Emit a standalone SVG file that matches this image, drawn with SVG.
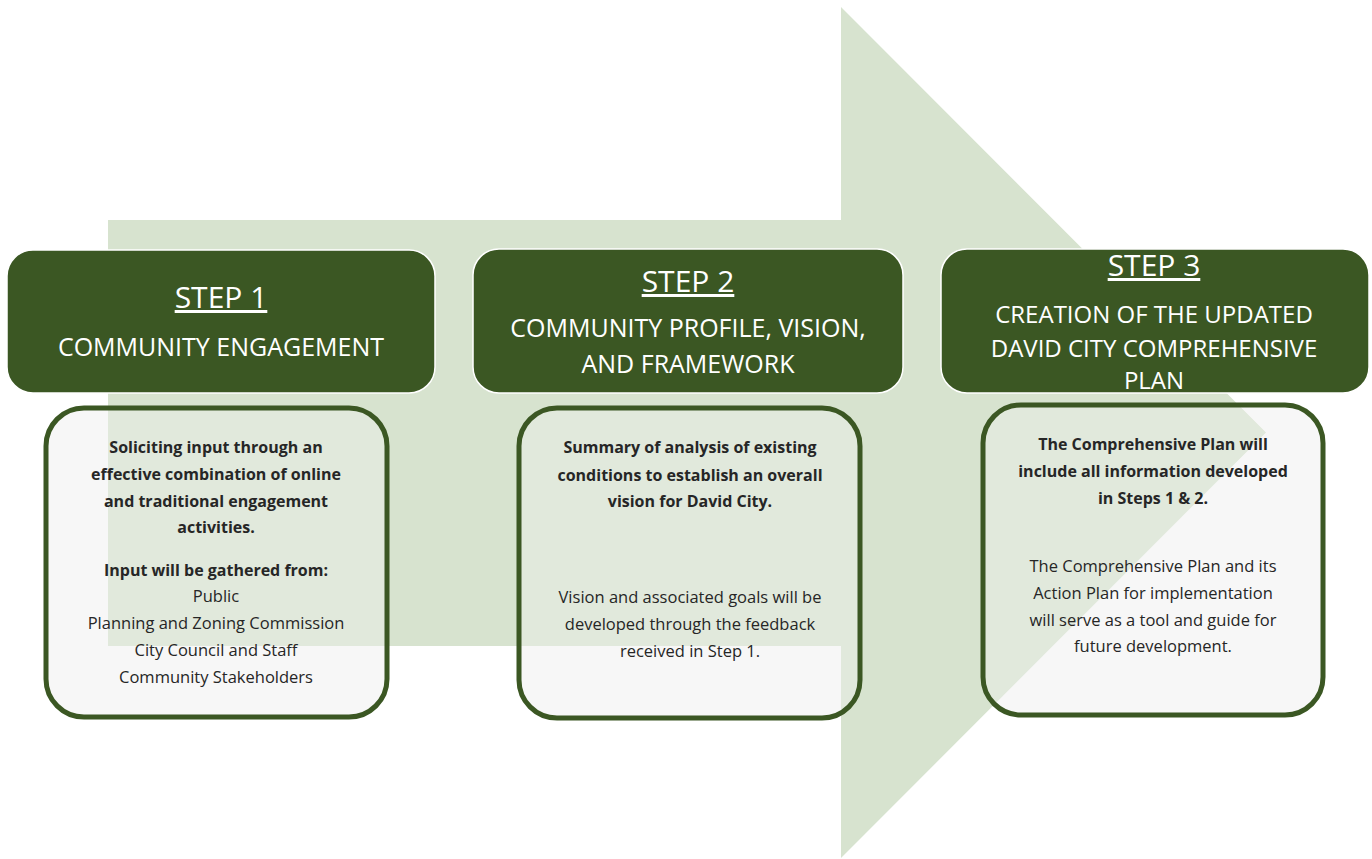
<svg xmlns="http://www.w3.org/2000/svg" width="1372" height="859" viewBox="0 0 1372 859">
<defs>
<style>
.hdr{fill:#3b5723;stroke:#ffffff;stroke-width:1.5}
.card{fill:#f7f7f7}
.cardline{fill:none;stroke:#3b5723;stroke-width:5}
.h1{font-family:"Open Sans",sans-serif;font-size:30px;fill:#ffffff;text-anchor:middle;text-decoration:underline}
.h2{font-family:"Open Sans",sans-serif;font-size:25px;fill:#ffffff;text-anchor:middle}
.h3{font-family:"Open Sans",sans-serif;font-size:24px;fill:#ffffff;text-anchor:middle}
.b{font-family:"Open Sans",sans-serif;font-size:16px;font-weight:bold;fill:#262626;text-anchor:middle}
.r{font-family:"Open Sans",sans-serif;font-size:16.5px;fill:#262626;text-anchor:middle}
</style>
<clipPath id="cardclip">
<rect x="46" y="408" width="341" height="309" rx="38"/>
<rect x="519" y="408" width="341" height="310" rx="38"/>
<rect x="983" y="405" width="340" height="310" rx="38"/>
</clipPath>
</defs>
<rect width="1372" height="859" fill="#ffffff"/>
<g id="arrow">
<polygon points="108,220 841,220 841,7 1266,432.5 841,858 841,646 108,646" fill="#d7e3cf"/>
</g>
<g id="connectors"></g>
<g id="step1">
<rect class="hdr" x="7" y="250" width="428" height="143" rx="26"/>
<text class="h1" x="221" y="308">STEP 1</text>
<text class="h2" x="221" y="356">COMMUNITY ENGAGEMENT</text>
</g>
<g id="step2">
<rect class="hdr" x="473" y="249" width="430" height="144" rx="26"/>
<text class="h1" x="688" y="292">STEP 2</text>
<text class="h2" x="688" y="337">COMMUNITY PROFILE, VISION,</text>
<text class="h2" x="688" y="373">AND FRAMEWORK</text>
</g>
<g id="step3">
<rect class="hdr" x="941" y="249" width="428" height="144" rx="26"/>
<text class="h1" x="1154" y="276">STEP 3</text>
<text class="h3" x="1154" y="323">CREATION OF THE UPDATED</text>
<text class="h3" x="1154" y="357">DAVID CITY COMPREHENSIVE</text>
<text class="h3" x="1154" y="389">PLAN</text>
</g>
<g id="cards-bg">
<rect class="card" x="46" y="408" width="341" height="309" rx="38"/>
<rect class="card" x="519" y="408" width="341" height="310" rx="38"/>
<rect class="card" x="983" y="405" width="340" height="310" rx="38"/>
<polygon clip-path="url(#cardclip)" points="108,220 841,220 841,7 1266,432.5 841,858 841,646 108,646" fill="#e1e9dc"/>
</g>
<g id="detail1">
<rect class="cardline" x="46" y="408" width="341" height="309" rx="38"/>
<text class="b" x="216" y="453">Soliciting input through an</text>
<text class="b" x="216" y="480">effective combination of online</text>
<text class="b" x="216" y="507">and traditional engagement</text>
<text class="b" x="216" y="533">activities.</text>
<text class="b" x="216" y="576">Input will be gathered from:</text>
<text class="r" x="216" y="602">Public</text>
<text class="r" x="216" y="629">Planning and Zoning Commission</text>
<text class="r" x="216" y="656">City Council and Staff</text>
<text class="r" x="216" y="683">Community Stakeholders</text>
</g>
<g id="detail2">
<rect class="cardline" x="519" y="408" width="341" height="310" rx="38"/>
<text class="b" x="690" y="453">Summary of analysis of existing</text>
<text class="b" x="690" y="481">conditions to establish an overall</text>
<text class="b" x="690" y="507">vision for David City.</text>
<text class="r" x="690" y="603">Vision and associated goals will be</text>
<text class="r" x="690" y="630">developed through the feedback</text>
<text class="r" x="690" y="657">received in Step 1.</text>
</g>
<g id="detail3">
<rect class="cardline" x="983" y="405" width="340" height="310" rx="38"/>
<text class="b" x="1153" y="450">The Comprehensive Plan will</text>
<text class="b" x="1153" y="477">include all information developed</text>
<text class="b" x="1153" y="504">in Steps 1 &amp; 2.</text>
<text class="r" x="1153" y="572">The Comprehensive Plan and its</text>
<text class="r" x="1153" y="599">Action Plan for implementation</text>
<text class="r" x="1153" y="626">will serve as a tool and guide for</text>
<text class="r" x="1153" y="652">future development.</text>
</g>
</svg>
